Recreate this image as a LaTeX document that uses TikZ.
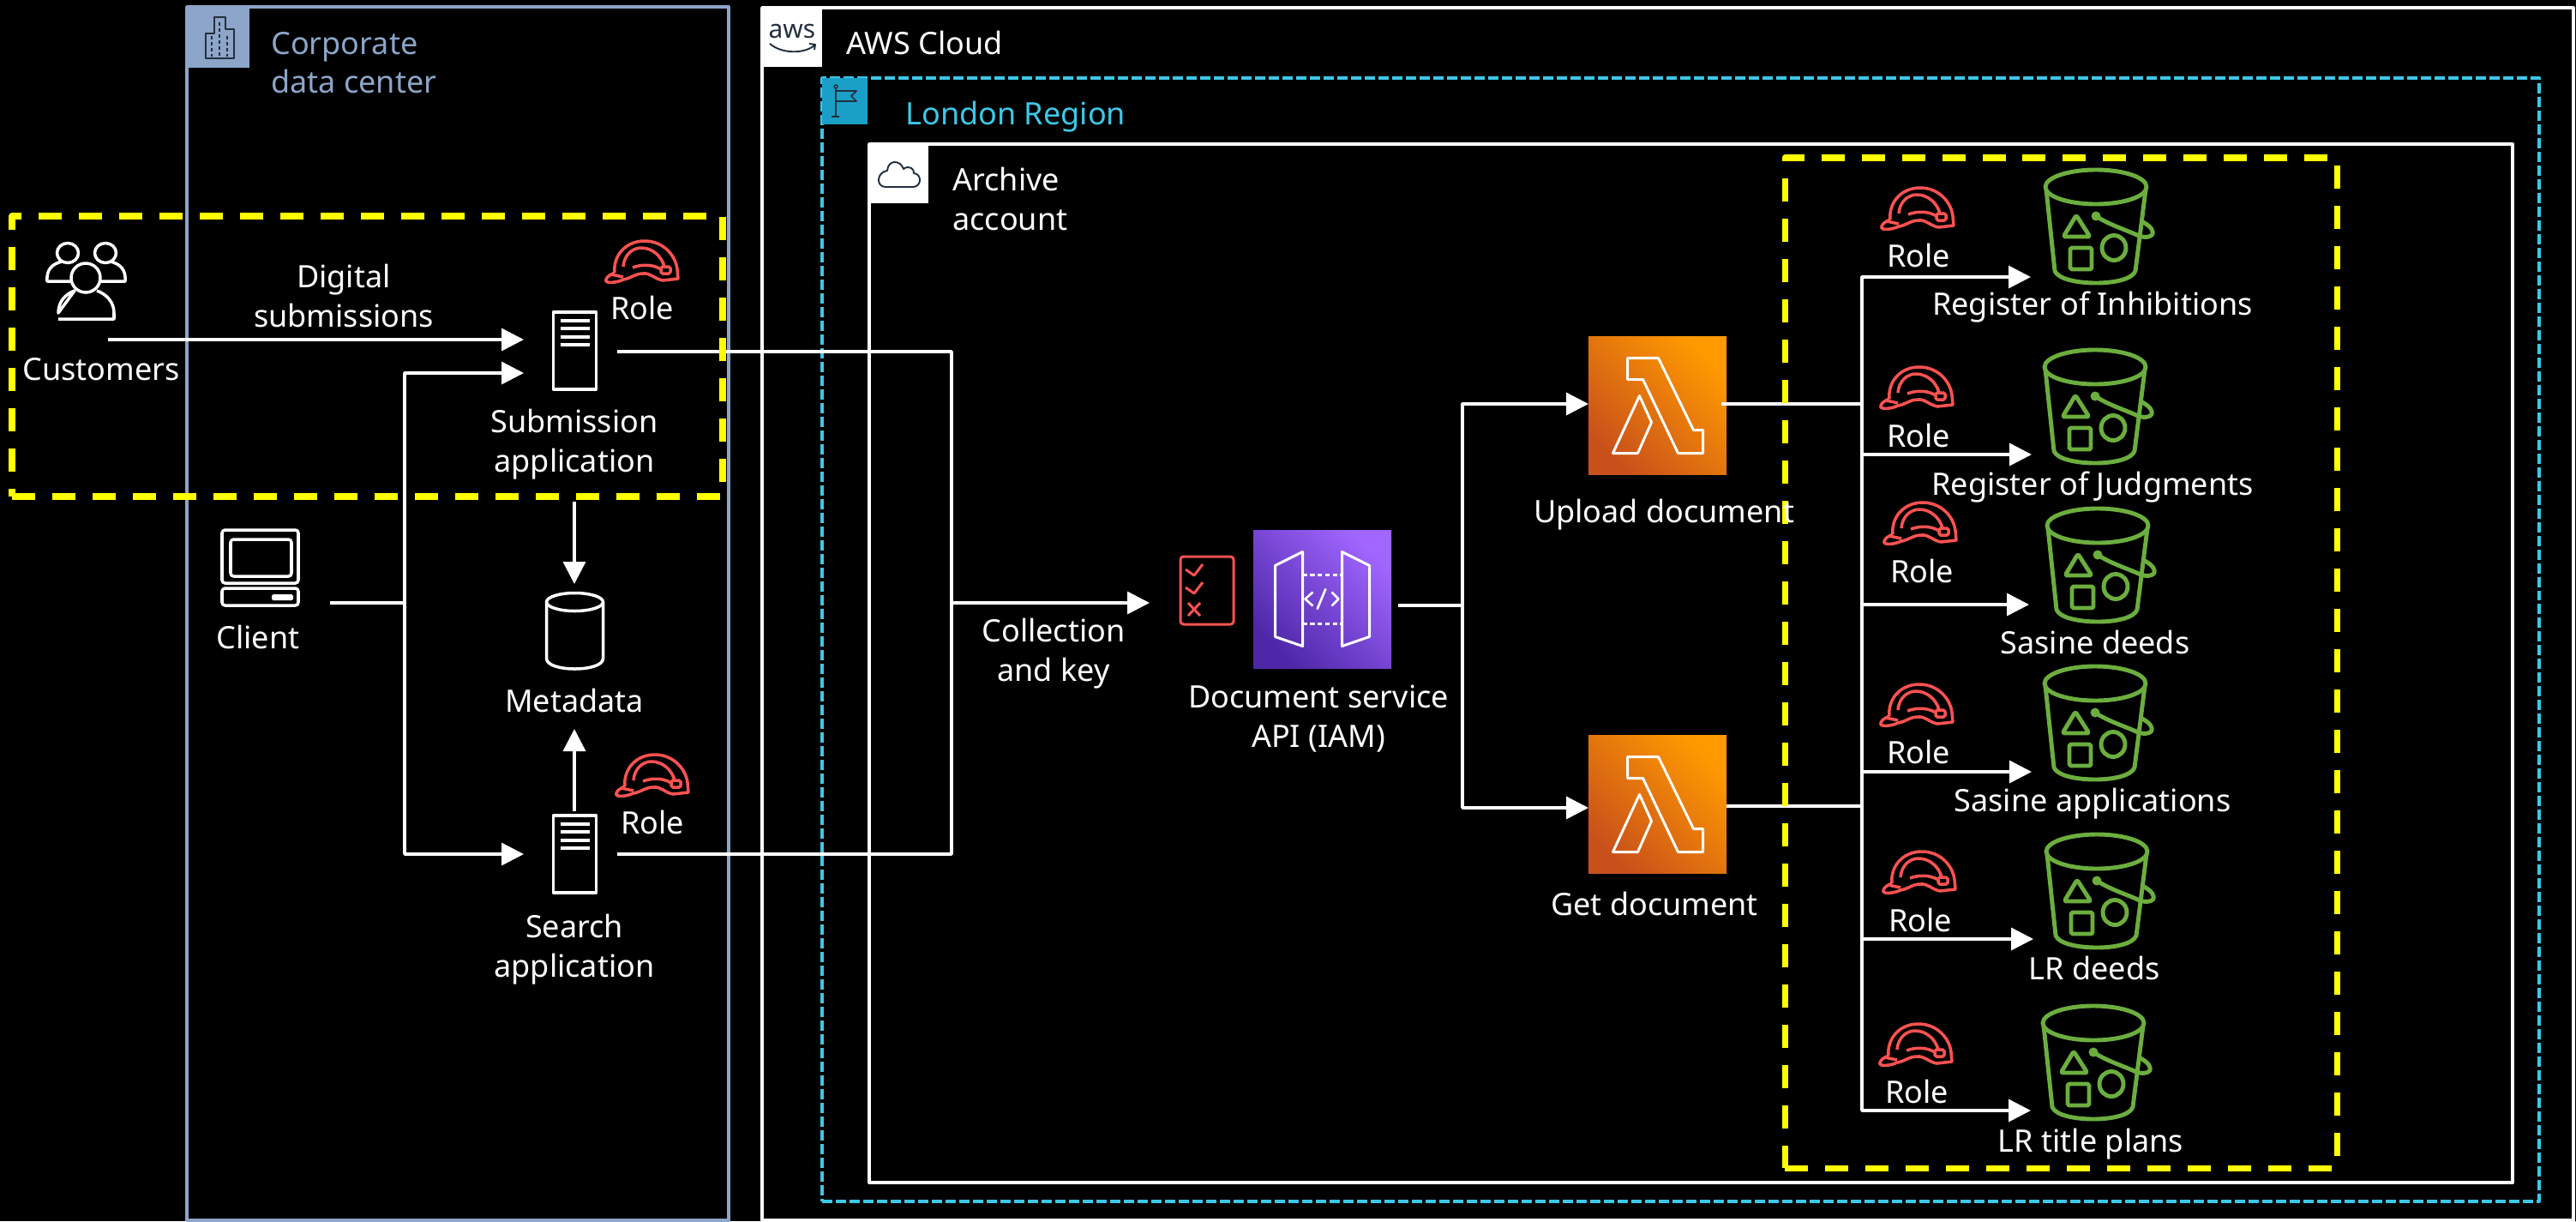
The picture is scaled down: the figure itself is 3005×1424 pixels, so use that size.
\documentclass[tikz,border=0pt]{standalone}
\usepackage{fontspec}
\setmainfont{Noto Sans}
\usetikzlibrary{arrows.meta}
\definecolor{corpblue}{HTML}{8CA5C8}
\definecolor{regionblue}{HTML}{3CC8E8}
\definecolor{flagblue}{HTML}{1A9FC7}
\definecolor{inkdark}{HTML}{232F3E}
\definecolor{hatred}{HTML}{FF5252}
\definecolor{bucketgreen}{HTML}{6CAE3E}
\definecolor{marker}{HTML}{FFFF00}
\definecolor{lamlow}{HTML}{C8511B}
\definecolor{lamhigh}{HTML}{FF9900}
\definecolor{apilow}{HTML}{4D27A8}
\definecolor{apihigh}{HTML}{A166FF}
\def\u{0.02cm}
\tikzset{
  lbl/.style={text=white,align=center,inner sep=0pt,font=\fontsize{20.5}{26}\selectfont},
  lblleft/.style={lbl,align=left,anchor=west},
  link/.style={draw=white,line width=2pt},
  arr/.style={link,->},
  group/.style={draw=#1,line width=2.2pt,anchor=north west,outer sep=0pt,inner sep=0pt},
  tag/.style={fill=#1,draw=none,anchor=north west,outer sep=0pt,inner sep=0pt},
  marked/.style={draw=marker,line width=4pt,dash pattern=on 0.54cm off 0.4cm,anchor=north west,outer sep=0pt,inner sep=0pt},
  fn/.style 2 args={draw=none,outer sep=0pt,minimum width=161*\u,minimum height=161*\u,left color=#1,right color=#2,shading angle=135},
  hat/.pic={
    \begin{scope}[draw=hatred,line width=2pt]
    \draw (-32,13) .. controls (-34,-6) and (-20,-24) .. (3,-24) .. controls (24,-24) and (39,-8) .. (41,9)
      -- (42,20) -- (24,22) .. controls (14,20) and (10,13) .. (1,14) .. controls (-8,14) and (-14,20) .. (-22,21)
      .. controls (-30,25) and (-44,26) .. (-42,21) .. controls (-41,17) and (-36,15) .. (-32,13);
    \draw (-22,6) .. controls (-21,-8) and (-11,-16) .. (-1,-16) .. controls (12,-16) and (23,-6) .. (26,6);
    \draw (-11,7) .. controls (0,3) and (12,3) .. (22,9);
    \draw[rounded corners=1pt] (22,6) rectangle (33,14);
    \draw (-36,15) -- (-22,18);
    \end{scope}},
  bucket/.pic={
    \begin{scope}[draw=bucketgreen,line width=2.8pt]
    \draw (0,0) ellipse (59 and 20);
    \draw (-58,3) -- (-48,98) .. controls (-44,108) and (-20,112) .. (0,112) .. controls (20,112) and (42,108) .. (46,98) -- (58,3);
    \fill[bucketgreen] (0,34) circle (5.5);
    \draw (0,34) .. controls (15,44) and (35,50) .. (50,57) .. controls (58,60) and (68,58) .. (66,52) .. controls (65,47) and (60,44) .. (55,41);
    \draw[rounded corners=1pt] (-23,33) -- (-38,58) -- (-7,58) -- cycle;
    \draw[rounded corners=1pt] (-30,71) rectangle (-5,96);
    \draw (21,71) ellipse (14 and 14.5);
    \end{scope}},
  lambda/.pic={
    \draw[white,line width=1.7pt] (-35,-55) -- (1,-55) -- (42,29) -- (53,29) -- (53,56) -- (24,56) -- (-17,-30) -- (-35,-30) -- cycle;
    \draw[white,line width=1.7pt] (-21,-11) -- (-7,20) -- (-23,56) -- (-52,56) -- cycle;},
  server/.pic={
    \draw[white,line width=2pt] (-25,-45) rectangle (25,45);
    \foreach \y in {-35,-26,-16,-7} \draw[white,line width=2pt] (-17,\y) -- (17,\y);}
}
\begin{document}
\begin{tikzpicture}[x=\u,y=-\u,>={Triangle[length=0.52cm,width=0.52cm]},line join=round]
\useasboundingbox (0,0) rectangle (3005,1424);
\fill[black] (0,0) rectangle (3005,1424);
% groups
\node[group=corpblue,minimum width=632*\u,minimum height=1415*\u] (corp) at (218,8) {};
\node[group=white,minimum width=2113*\u,minimum height=1414*\u] (cloud) at (889,9) {};
\node[group=regionblue,dash pattern=on 0.24cm off 0.08cm,minimum width=2003*\u,minimum height=1310*\u] (region) at (959,91) {};
\node[group=white,minimum width=1917*\u,minimum height=1211*\u] (account) at (1014,168) {};
\node[tag=corpblue,minimum width=71*\u,minimum height=69*\u] (corptag) at (220,10) {};
\node[tag=white,minimum width=70*\u,minimum height=69*\u] (cloudtag) at (889,9) {};
\node[tag=flagblue,minimum width=53*\u,minimum height=54*\u] (regiontag) at (959,91) {};
\node[tag=white,minimum width=69*\u,minimum height=69*\u] (accounttag) at (1014,168) {};
% tag glyphs
\draw[inkdark,line width=1.2pt] (250,34) -- (250,20) -- (263,20) -- (263,28) -- (263,34) -- (273,34) -- (273,68) -- (240,68) -- (240,39) -- (250,39) -- cycle;
\draw[inkdark,line width=0.7pt,dash pattern=on 2pt off 2pt] (247,42) -- (247,66) (256,26) -- (256,66) (265,42) -- (265,66);
\node[text=inkdark,inner sep=0pt,font=\fontsize{17}{17}\selectfont] (awslogo) at (924,36) {aws};
\draw[inkdark,line width=1.1pt] (898,51) .. controls (912,63) and (938,63) .. (950,53) (944,51) -- (951,52) -- (950,58);
\draw[inkdark,line width=1pt] (975,103) -- (975,136) (970,136) -- (979,136) (975,106) -- (999,106) -- (993,112) -- (999,118) -- (975,118);
\draw[inkdark,line width=0.8pt] (975,101) circle (2);
\draw[inkdark,line width=1.1pt] (1033,218) -- (1065,218) .. controls (1075,218) and (1076,203) .. (1066,202) .. controls (1067,197) and (1060,192) .. (1054,197) .. controls (1050,186) and (1036,186) .. (1035,199) .. controls (1022,201) and (1022,218) .. (1033,218) -- cycle;
% junctions and free ends
\coordinate (custout) at (126,396);
\coordinate (subin) at (611,396);
\coordinate (clientout) at (385,703);
\coordinate (busleft) at (472,703);
\coordinate (subin2) at (611,435);
\coordinate (searchin) at (611,996);
\coordinate (subout) at (720,410);
\coordinate (searchout) at (720,996);
\coordinate (buscoll) at (1110,703);
\coordinate (apiin) at (1341,703);
\coordinate (subdown) at (670,585);
\coordinate (metain) at (670,681);
\coordinate (searchup) at (670,946);
\coordinate (metain2) at (670,850);
\coordinate (apiout) at (1631,706);
\coordinate (busapi) at (1706,706);
\coordinate (uploadin) at (1853,471);
\coordinate (getin) at (1853,942);
\coordinate (uploadout) at (2008,471);
\coordinate (getout) at (2014,940);
\coordinate (busup) at (2172,471);
\coordinate (busget) at (2172,940);
\coordinate (inhib) at (2369,323);
\coordinate (judg) at (2370,530);
\coordinate (sdeeds) at (2367,705);
\coordinate (sapps) at (2370,900);
\coordinate (lrdeeds) at (2372,1095);
\coordinate (lrplans) at (2369,1295);
% icons
\node[draw=none,minimum width=50*\u,minimum height=90*\u] (subapp) at (670.5,409) {};
\pic at (subapp) {server};
\node[draw=none,minimum width=50*\u,minimum height=90*\u] (searchapp) at (670.5,996) {};
\pic at (searchapp) {server};
\node[draw=none,minimum width=66*\u,minimum height=89*\u] (meta) at (670.5,735.5) {};
\draw[white,line width=2pt] (670.5,702) ellipse (33 and 10.5);
\draw[white,line width=2pt] (637.5,702) -- (637.5,768) .. controls (638,784) and (703,784) .. (703.5,768) -- (703.5,702);
\node[fn={lamlow}{lamhigh}] (upload) at (1933.5,472.5) {};
\pic at (upload) {lambda};
\node[fn={lamlow}{lamhigh}] (getdoc) at (1933.5,937.5) {};
\pic at (getdoc) {lambda};
\node[fn={apilow}{apihigh}] (api) at (1542.5,698.5) {};
\draw[white,line width=1.7pt] ([shift={(-55,-39)}]api.center) -- ++(32,-16) -- ++(0,110) -- ++(-32,-11) -- cycle ([shift={(55,-39)}]api.center) -- ++(-32,-16) -- ++(0,110) -- ++(32,-11) -- cycle;
\draw[white,line width=1.7pt,dash pattern=on 3pt off 2pt] ([shift={(-23,-28)}]api.center) -- ++(46,0) ([shift={(-23,29)}]api.center) -- ++(46,0);
\draw[white,line width=1.5pt] ([shift={(-11,-8)}]api.center) -- ++(-9,8) -- ++(9,8) ([shift={(11,-8)}]api.center) -- ++(8,8) -- ++(-8,8) ([shift={(4,-12)}]api.center) -- ++(-10,24);
\node[draw=hatred,line width=1.7pt,rounded corners=2pt,minimum width=62*\u,minimum height=79*\u] (rules) at (1408,688.5) {};
\draw[hatred,line width=1.7pt] (1383,664) -- (1393,671) -- (1403,658) (1383,685) -- (1393,692) -- (1403,679) (1386,703) -- (1400,718) (1400,703) -- (1386,718);
\node[draw=none,minimum width=89*\u,minimum height=88*\u] (client) at (303.5,662) {};
\draw[white,line width=2pt,rounded corners=2pt] (259,618) rectangle (348,680) (269,629) rectangle (340,672) (259,686) rectangle (348,706);
\fill[white,rounded corners=1pt] (317,693) rectangle (342,700);
\node[draw=none,minimum width=91*\u,minimum height=89*\u] (cust) at (100,327) {};
\draw[white,line width=2pt] (79,295) ellipse (12.5 and 11.5) (123,295) ellipse (12.5 and 11.5) (100,324) ellipse (17 and 17);
\draw[white,line width=2pt] (83,328) -- (55,328) .. controls (54,315) and (60,308) .. (72,305) (118,328) -- (146,328) .. controls (147,315) and (141,308) .. (129,305);
\draw[white,line width=2pt] (68,372) -- (133,372) -- (133,365) .. controls (133,352) and (124,343) .. (113,339) (87,339) .. controls (76,343) and (68,352) .. (68,365) -- cycle;
\pic at (749,305) {hat};
\pic at (761,904) {hat};
\pic at (2237,243) {hat};
\pic at (2236,452) {hat};
\pic at (2240,610) {hat};
\pic at (2236,822) {hat};
\pic at (2239,1017) {hat};
\pic at (2235,1218) {hat};
\node[draw=none,minimum width=119*\u,minimum height=133*\u] (bk1) at (2445,265) {};
\pic at (2445,218) {bucket};
\node[draw=none,minimum width=119*\u,minimum height=133*\u] (bk2) at (2444,475) {};
\pic at (2444,428) {bucket};
\node[draw=none,minimum width=119*\u,minimum height=133*\u] (bk3) at (2447,660) {};
\pic at (2447,613) {bucket};
\node[draw=none,minimum width=119*\u,minimum height=133*\u] (bk4) at (2444,844) {};
\pic at (2444,797) {bucket};
\node[draw=none,minimum width=119*\u,minimum height=133*\u] (bk5) at (2446,1040) {};
\pic at (2446,993) {bucket};
\node[draw=none,minimum width=119*\u,minimum height=133*\u] (bk6) at (2442,1240) {};
\pic at (2442,1193) {bucket};
% connectors
\draw[arr] (custout) -- (subin);
\draw[link] (clientout) -- (busleft);
\draw[arr] (busleft) |- (subin2);
\draw[arr] (busleft) |- (searchin);
\draw[link] (subout) -| (buscoll);
\draw[link] (searchout) -| (buscoll);
\draw[arr] (buscoll) -- (apiin);
\draw[arr] (subdown) -- (metain);
\draw[arr] (searchup) -- (metain2);
\draw[link] (apiout) -- (busapi);
\draw[arr] (busapi) |- (uploadin);
\draw[arr] (busapi) |- (getin);
\draw[link] (uploadout) -- (busup);
\draw[link] (getout) -- (busget);
\draw[arr] (busup) |- (inhib);
\draw[arr] (busup) |- (judg);
\draw[arr] (busup) |- (sdeeds);
\draw[arr] (busup) |- (sapps);
\draw[arr] (busup) |- (lrdeeds);
\draw[arr] (busup) |- (lrplans);
% marked areas
\node[marked,minimum width=829*\u,minimum height=327*\u] (markleft) at (14,252) {};
\node[marked,minimum width=644*\u,minimum height=1178*\u] (markright) at (2082,184) {};
% labels
\node[lblleft,text=corpblue] (corplbl) at (316,73) {Corporate\\data center};
\node[lblleft] (cloudlbl) at (987,50) {AWS Cloud};
\node[lblleft,text=regionblue] (regionlbl) at (1056,136) {London Region};
\node[lblleft] (accountlbl) at (1111,232) {Archive\\account};
\node[lbl] (digital) at (401,345) {Digital\\submissions};
\node[lbl] (custlbl) at (118,431) {Customers};
\node[lbl] (subrole) at (749,359) {Role};
\node[lbl] (sublbl) at (670,518) {Submission\\application};
\node[lbl] (clientlbl) at (301,743) {Client};
\node[lbl] (metalbl) at (670,817) {Metadata};
\node[lbl] (searchrole) at (761,959) {Role};
\node[lbl] (searchlbl) at (670,1107) {Search\\application};
\node[lbl] (collkey) at (1229,762) {Collection\\and key};
\node[lbl] (apilbl) at (1538,838) {Document service\\API (IAM)};
\node[lbl] (uploadlbl) at (1941,600) {Upload document};
\node[lbl] (getlbl) at (1930,1054) {Get document};
\node[lbl] (role1) at (2238,298) {Role};
\node[lbl] (role2) at (2238,508) {Role};
\node[lbl] (role3) at (2242,666) {Role};
\node[lbl] (role4) at (2238,877) {Role};
\node[lbl] (role5) at (2240,1073) {Role};
\node[lbl] (role6) at (2236,1273) {Role};
\node[lbl] (bk1lbl) at (2441,358) {Register of Inhibitions};
\node[lbl] (bk2lbl) at (2441,568) {Register of Judgments};
\node[lbl] (bk3lbl) at (2444,749) {Sasine deeds};
\node[lbl] (bk4lbl) at (2441,937) {Sasine applications};
\node[lbl] (bk5lbl) at (2443,1129) {LR deeds};
\node[lbl] (bk6lbl) at (2439,1334) {LR title plans};
\end{tikzpicture}
\end{document}
